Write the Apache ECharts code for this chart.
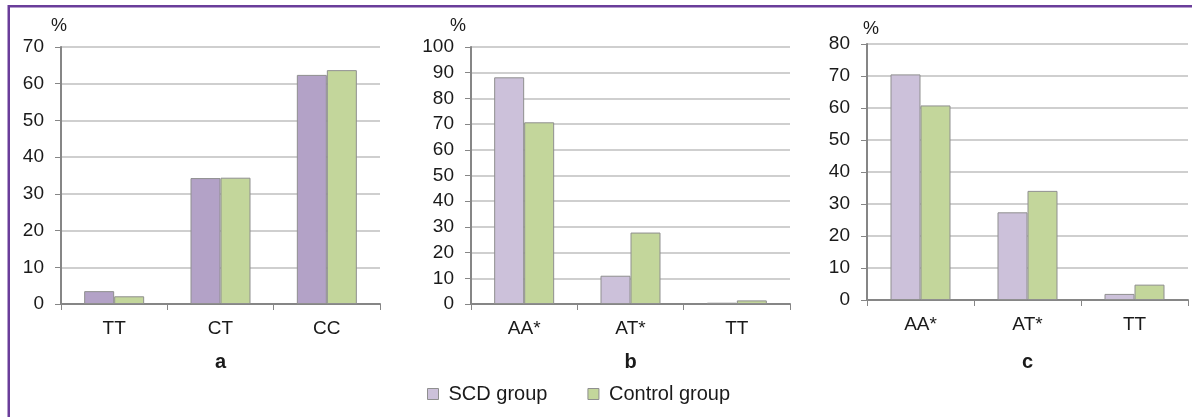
<!DOCTYPE html>
<html><head><meta charset="utf-8">
<script src="https://cdn.jsdelivr.net/npm/echarts@6/dist/echarts.min.js"></script>
<style>html,body{margin:0;padding:0;background:#fff}#c{width:1192px;height:417px}</style>
</head><body><div id="c"></div>
<script>
const catsA = ['TT', 'CT', 'CC'];
const catsB = ['AA*', 'AT*', 'TT'];
const catsC = ['AA*', 'AT*', 'TT'];
const scdA = [3.5, 34.3, 62.4];
const ctrlA = [2.1, 34.4, 63.7];
const scdB = [88.2, 11.0, 0.5];
const ctrlB = [70.7, 27.8, 1.4];
const scdC = [70.5, 27.4, 1.9];
const ctrlC = [60.8, 34.1, 4.8];
const yMax = [70, 100, 80];
const panelNames = ['a', 'b', 'c'];

const font = 'Liberation Sans, Arial, sans-serif';
const purpleA = '#b3a2c7', purpleB = '#ccc1da', green = '#c3d69b';

function xAx(i, cats, gap) {
  return {
    type: 'category', gridIndex: i, data: cats,
    name: panelNames[i], nameLocation: 'middle', nameGap: gap,
    nameTextStyle: {fontFamily: font, fontSize: 20, fontWeight: 'bold', color: '#1a1a1a'},
    axisLine: {lineStyle: {color: '#868686', width: 2}},
    axisTick: {show: true, alignWithLabel: false, length: 6, lineStyle: {color: '#868686', width: 1}},
    axisLabel: {fontFamily: font, fontSize: 19, color: '#1a1a1a', margin: 15}
  };
}
function yAx(i) {
  return {
    type: 'value', gridIndex: i, min: 0, max: yMax[i], interval: 10,
    axisLine: {show: true, lineStyle: {color: '#868686', width: 2}},
    axisTick: {show: true, length: 6, lineStyle: {color: '#868686', width: 1}},
    splitLine: {lineStyle: {color: '#bfbfbf', width: 1.5}},
    axisLabel: {fontFamily: font, fontSize: 19, color: '#1a1a1a', margin: 17}
  };
}
function bar(name, i, data, color) {
  return {
    type: 'bar', name: name, xAxisIndex: i, yAxisIndex: i, data: data,
    barWidth: 30, barGap: '0%',
    itemStyle: {color: color, borderColor: '#8f8f8f', borderWidth: 1},
    emphasis: {disabled: true}
  };
}

const chart = echarts.init(document.getElementById('c'), null, {renderer: 'canvas'});
chart.setOption({
  animation: false,
  backgroundColor: '#fff',
  grid: [
    {left: 61, right: 812, top: 47, bottom: 113},
    {left: 471, right: 402, top: 47, bottom: 113},
    {left: 867, right: 4, top: 44, bottom: 117}
  ],
  xAxis: [xAx(0, catsA, 48), xAx(1, catsB, 48), xAx(2, catsC, 52)],
  yAxis: [yAx(0), yAx(1), yAx(2)],
  legend: {
    left: 422, top: 379, itemWidth: 11, itemHeight: 11, itemGap: 40, icon: 'rect',
    textStyle: {fontFamily: font, fontSize: 20, color: '#1a1a1a', padding: [0, 0, 0, 5]},
    data: [
      {name: 'SCD group', itemStyle: {color: purpleB, borderColor: '#8f8f8f', borderWidth: 1}},
      {name: 'Control group', itemStyle: {color: green, borderColor: '#8f8f8f', borderWidth: 1}}
    ],
    selectedMode: false
  },
  series: [
    bar('SCD group', 0, scdA, purpleA), bar('Control group', 0, ctrlA, green),
    bar('SCD group', 1, scdB, purpleB), bar('Control group', 1, ctrlB, green),
    bar('SCD group', 2, scdC, purpleB), bar('Control group', 2, ctrlC, green)
  ],
  graphic: [
    {type: 'rect', shape: {x: 8, y: 5, width: 1200, height: 2.5}, style: {fill: '#6a3d9a'}},
    {type: 'rect', shape: {x: 7.5, y: 5, width: 2.5, height: 420}, style: {fill: '#6a3d9a'}},
    {type: 'text', x: 59, y: 26, style: {text: '%', font: '18px ' + font, fill: '#1a1a1a', align: 'center', verticalAlign: 'middle'}},
    {type: 'text', x: 458, y: 26, style: {text: '%', font: '18px ' + font, fill: '#1a1a1a', align: 'center', verticalAlign: 'middle'}},
    {type: 'text', x: 871, y: 29, style: {text: '%', font: '18px ' + font, fill: '#1a1a1a', align: 'center', verticalAlign: 'middle'}}
  ]
});
</script></body></html>
